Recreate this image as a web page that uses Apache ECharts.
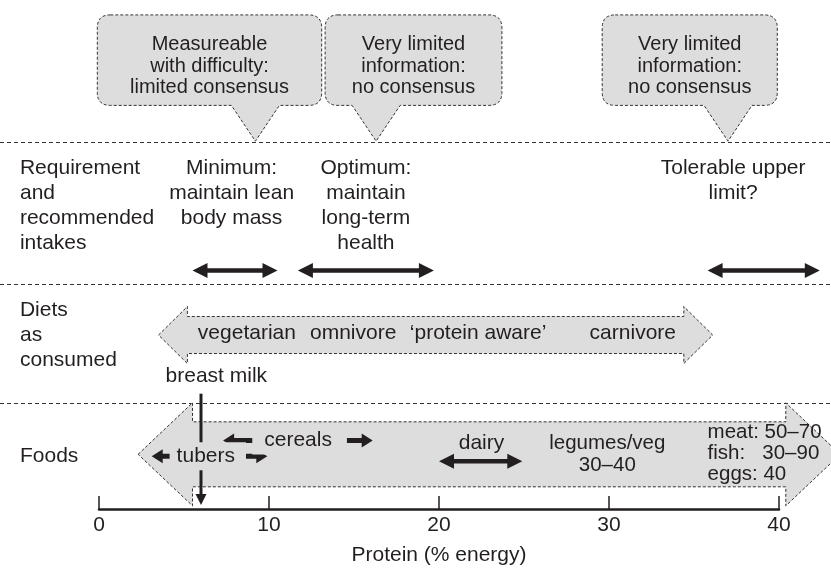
<!DOCTYPE html>
<html><head><meta charset="utf-8">
<script src="https://cdn.jsdelivr.net/npm/echarts@6/dist/echarts.min.js"></script>
<style>html,body{margin:0;padding:0;background:#fff}#c{width:831px;height:571px}</style>
</head><body><div id="c"></div>
<script>
// ---------- data (x values are protein, % energy) ----------
const axisTicks = [0, 10, 20, 30, 40];
const axisTitle = 'Protein (% energy)';

const calloutTexts = ['Measureable\nwith difficulty:\nlimited consensus', 'Very limited\ninformation:\nno consensus', 'Very limited\ninformation:\nno consensus'];
const calloutFrom = [-0.1, 13.3, 29.6];
const calloutTo = [13.1, 23.7, 39.9];
const calloutPoint = [9.2, 16.3, 37.0];

const rowTitles = ['Requirement\nand\nrecommended\nintakes', 'Diets\nas\nconsumed', 'Foods'];

const intakeNames = ['Minimum:\nmaintain lean\nbody mass', 'Optimum:\nmaintain\nlong-term\nhealth', 'Tolerable upper\nlimit?'];
const intakeLabelAt = [7.8, 15.7, 37.3];
const intakeFrom = [5.5, 11.7, 35.8];
const intakeTo = [10.5, 19.7, 42.4];

const dietWords = ['vegetarian', 'omnivore', '\u2018protein aware\u2019', 'carnivore'];
const dietWordAt = [8.7, 14.95, 22.3, 31.4];
const dietTips = [3.5, 36.1];
const dietBody = [5.2, 34.4];

const breastMilkName = 'breast milk';
const breastMilk = 6;
const breastMilkLabelAt = 6.9;

const foodTips = [2.3, 43.6];
const foodBody = [5.5, 40.4];
const foodNames = ['tubers', 'cereals', 'dairy'];
const foodFrom = [3.1, 7.3, 20.0];
const foodTo = [9.9, 16.1, 24.9];
const foodLabelAt = [6.4, 11.8, 22.5];
const legumesText = 'legumes/veg\n30\u201340';
const legumesAt = 29.9;
const animalText = 'meat: 50\u201370\nfish:   30\u201390\neggs: 40';
const animalAt = 35.8;

// ---------- layout (pixel rows, y axis is identity) ----------
const L = {
  boxTop: 15, boxBottom: 106, tailTip: 142, calloutTextTop: 34.25,
  seps: [143, 286, 405],
  titleX: -4.65,
  intakeTextTop: 156.5, intakeArrow: 272,
  dietTextTop: 299.5, diet: 337, dietWords: 335, dietHead: 28.5, dietBodyH: 18.5,
  milkText: 378, milkTop: 396, milkTip: 508,
  food: 457, foodHead: 51.5, foodBodyH: 32.5, foodsTitle: 459,
  foodLabelY: [459, 443, 446], foodArrowY: [459, 443, 464],
  legumesTop: 435, animalTop: 424.5
};
const FONT = '"Liberation Sans", Arial, Helvetica, sans-serif';
const INK = '#231f20';
const FILL = '#dddddd';
const DASH = '#333333';

function dblArrow(x1, x2, y, hl, hh, sw) {
  return [[x1, y], [x1 + hl, y - hh], [x1 + hl, y - sw / 2], [x2 - hl, y - sw / 2], [x2 - hl, y - hh], [x2, y],
          [x2 - hl, y + hh], [x2 - hl, y + sw / 2], [x1 + hl, y + sw / 2], [x1 + hl, y + hh]];
}
function blockArrow(api, tips, body, yc, hh, bh) {
  const t1 = api.coord([tips[0], 0])[0], t2 = api.coord([tips[1], 0])[0];
  const b1 = api.coord([body[0], 0])[0], b2 = api.coord([body[1], 0])[0];
  const y = api.coord([0, yc])[1];
  return {type: 'polygon', shape: {points: [[t1, y], [b1, y - hh], [b1, y - bh], [b2, y - bh], [b2, y - hh], [t2, y],
      [b2, y + hh], [b2, y + bh], [b1, y + bh], [b1, y + hh]]},
    style: {fill: FILL, stroke: DASH, lineWidth: 1, lineDash: [3, 2]}};
}
function txt(x, y, text, opts) {
  return {type: 'text', x: x, y: y, style: Object.assign({text: text, fill: INK, fontSize: 21, fontFamily: FONT,
    align: 'center', verticalAlign: 'middle', lineHeight: 22}, opts || {})};
}

// labels list built from the arrays
const labels = [];
rowTitles.forEach((t, i) => labels.push({x: L.titleX, y: [L.intakeTextTop, L.dietTextTop, L.foodsTitle][i], text: t,
  s: {align: 'left', verticalAlign: i < 2 ? 'top' : 'middle', lineHeight: 25}}));
intakeNames.forEach((t, i) => labels.push({x: intakeLabelAt[i], y: L.intakeTextTop, text: t, s: {verticalAlign: 'top', lineHeight: 25}}));
dietWords.forEach((t, i) => labels.push({x: dietWordAt[i], y: L.dietWords, text: t, s: {}}));
labels.push({x: breastMilkLabelAt, y: L.milkText, text: breastMilkName, s: {}});
const foodPads = [[1, 11, 5, 7], [3, 15, 3, 12]];
foodNames.forEach((t, i) => labels.push({x: foodLabelAt[i], y: L.foodLabelY[i], text: t,
  s: i < 2 ? {backgroundColor: FILL, padding: foodPads[i]} : {}}));
labels.push({x: legumesAt, y: L.legumesTop, text: legumesText, s: {verticalAlign: 'top', lineHeight: 22, fontSize: 20.5}});
labels.push({x: animalAt, y: L.animalTop, text: animalText, s: {align: 'left', verticalAlign: 'top', lineHeight: 21, fontSize: 20.5}});

const chart = echarts.init(document.getElementById('c'));
chart.setOption({
  animation: false,
  grid: {left: 99, right: 52, top: 0, bottom: 59},
  xAxis: {
    type: 'value', min: axisTicks[0], max: axisTicks[axisTicks.length - 1], interval: 10,
    name: axisTitle, nameLocation: 'middle', nameGap: 36,
    nameTextStyle: {fontSize: 21, fontFamily: FONT, color: INK},
    axisLine: {show: true, onZero: false, lineStyle: {color: INK, width: 2.5}},
    axisTick: {show: true, inside: true, length: 13, lineStyle: {color: INK, width: 1.5}},
    axisLabel: {fontSize: 21, fontFamily: FONT, color: INK, margin: 6},
    splitLine: {show: false}
  },
  yAxis: {type: 'value', min: 0, max: 512, inverse: true, show: false},
  series: [
    { // dashed separators
      type: 'custom', z: 1, silent: true, data: L.seps.map(y => [0, y]),
      renderItem: (p, api) => {
        const y = Math.round(api.coord([0, api.value(1)])[1]) + 0.5;
        return {type: 'line', shape: {x1: 0, y1: y, x2: api.getWidth(), y2: y}, style: {stroke: DASH, lineWidth: 1, lineDash: [4, 3]}};
      }
    },
    { // callouts
      type: 'custom', z: 2, silent: true,
      data: calloutFrom.map((f, i) => [f, calloutTo[i], calloutPoint[i]]),
      renderItem: (p, api) => {
        const a = api.coord([api.value(0), 0])[0], b = api.coord([api.value(1), 0])[0], t = api.coord([api.value(2), 0])[0];
        const y0 = api.coord([0, L.boxTop])[1], y1 = api.coord([0, L.boxBottom])[1], yt = api.coord([0, L.tailTip])[1];
        const r = 13, hw = 24;
        const d = `M${a + r} ${y0} L${b - r} ${y0} Q${b} ${y0} ${b} ${y0 + r} L${b} ${y1 - r} Q${b} ${y1} ${b - r} ${y1} ` +
          `L${t + hw} ${y1} L${t} ${yt} L${t - hw} ${y1} L${a + r} ${y1} Q${a} ${y1} ${a} ${y1 - r} L${a} ${y0 + r} Q${a} ${y0} ${a + r} ${y0} Z`;
        return {type: 'group', children: [
          {type: 'path', shape: {pathData: d}, style: {fill: FILL, stroke: DASH, lineWidth: 1, lineDash: [3, 2]}},
          txt((a + b) / 2, api.coord([0, L.calloutTextTop])[1], calloutTexts[p.dataIndex], {verticalAlign: 'top', lineHeight: 21.5, fontSize: 20})
        ]};
      }
    },
    { // intake arrows
      type: 'custom', z: 3, silent: true,
      data: intakeFrom.map((f, i) => [f, intakeTo[i]]),
      renderItem: (p, api) => {
        const x1 = api.coord([api.value(0), 0])[0], x2 = api.coord([api.value(1), 0])[0];
        const y = api.coord([0, L.intakeArrow])[1];
        return {type: 'polygon', shape: {points: dblArrow(x1, x2, y, 15, 7.5, 4.5)}, style: {fill: INK}};
      }
    },
    { // diets block arrow
      type: 'custom', z: 2, silent: true, data: [[dietTips[0], dietTips[1]]],
      renderItem: (p, api) => blockArrow(api, dietTips, dietBody, L.diet, L.dietHead, L.dietBodyH)
    },
    { // foods block arrow
      type: 'custom', z: 2, silent: true, data: [[foodTips[0], foodTips[1]]],
      renderItem: (p, api) => blockArrow(api, foodTips, foodBody, L.food, L.foodHead, L.foodBodyH)
    },
    { // breast milk arrow
      type: 'custom', z: 3, silent: true, data: [[breastMilk, 0]],
      renderItem: (p, api) => {
        const x = api.coord([api.value(0), 0])[0];
        const yt = api.coord([0, L.milkTop])[1], yb = api.coord([0, L.milkTip])[1];
        return {type: 'group', children: [
          {type: 'line', shape: {x1: x, y1: yt, x2: x, y2: yb - 8}, style: {stroke: INK, lineWidth: 3}},
          {type: 'polygon', shape: {points: [[x - 5.5, yb - 11], [x + 5.5, yb - 11], [x, yb]]}, style: {fill: INK}}
        ]};
      }
    },
    { // food range arrows
      type: 'custom', z: 4, silent: true,
      data: foodFrom.map((f, i) => [f, foodTo[i]]),
      renderItem: (p, api) => {
        const i = p.dataIndex;
        const x1 = api.coord([api.value(0), 0])[0], x2 = api.coord([api.value(1), 0])[0];
        const y = api.coord([0, L.foodArrowY[i]])[1];
        const pts = i < 2 ? dblArrow(x1, x2, y, 11, 7, 5) : dblArrow(x1, x2, y, 15, 7.5, 4.5);
        return {type: 'polygon', shape: {points: pts}, style: {fill: INK}};
      }
    },
    { // labels
      type: 'custom', z: 6, silent: true,
      data: labels.map(l => [l.x, l.y]),
      renderItem: (p, api) => {
        const l = labels[p.dataIndex];
        const c = api.coord([l.x, l.y]);
        return txt(c[0], c[1], l.text, l.s);
      }
    }
  ]
});
</script>
</body></html>
